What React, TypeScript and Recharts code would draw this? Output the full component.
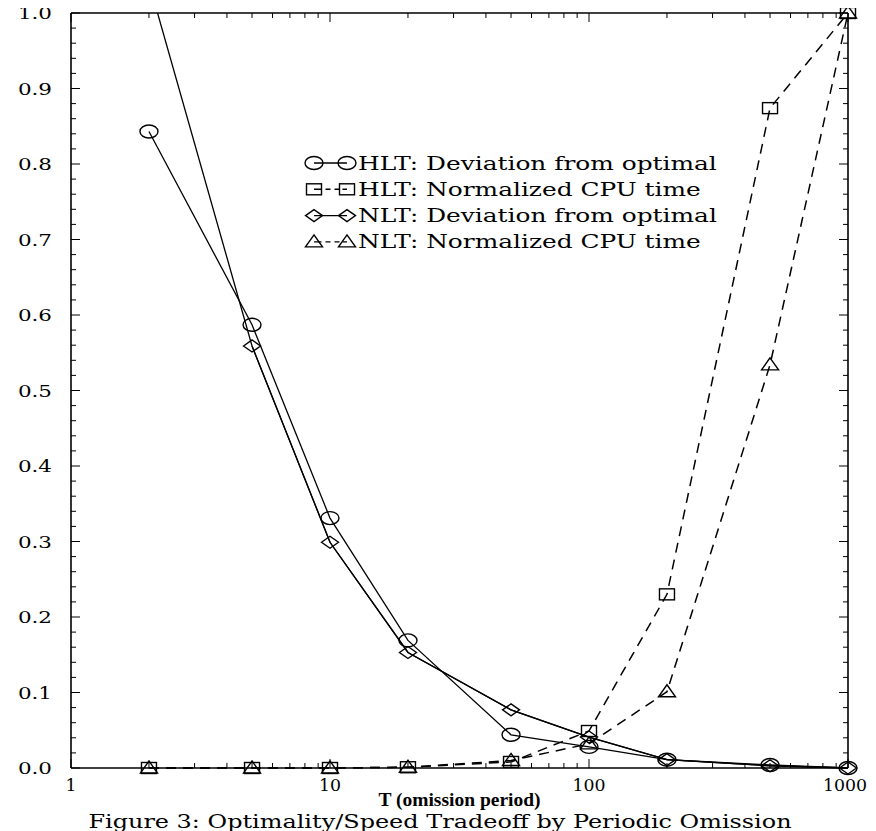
import React from 'react';
import { LineChart, Line, XAxis, YAxis, Legend, Customized } from 'recharts';

// ---------- data ----------
const T_VALUES = [2, 5, 10, 20, 50, 100, 200, 500, 1000];
const HLT_DEV = [0.843, 0.587, 0.331, 0.169, 0.044, 0.028, 0.011, 0.004, 0.0];
const HLT_CPU = [0.0, 0.0, 0.0, 0.001, 0.008, 0.049, 0.23, 0.874, 1.0];
const NLT_DEV = [1.04, 0.559, 0.299, 0.153, 0.077, 0.041, 0.011, 0.003, 0.0];
const NLT_CPU = [0.0, 0.0, 0.0, 0.001, 0.01, 0.032, 0.101, 0.534, 1.0];

const SERIES_NAMES = [
  'HLT: Deviation from optimal',
  'HLT: Normalized CPU time',
  'NLT: Deviation from optimal',
  'NLT: Normalized CPU time',
];
const SERIES_KEYS = ['hltDev', 'hltCpu', 'nltDev', 'nltCpu'];
const SERIES_SHAPES = ['circle', 'square', 'diamond', 'triangle'];
const SERIES_DASHED = [false, true, false, true];

const X_MAJOR = [1, 10, 100, 1000];
const X_MINOR_STEPS = [2, 3, 4, 5, 6, 7, 8, 9];
const Y_MAJOR = [0, 0.1, 0.2, 0.3, 0.4, 0.5, 0.6, 0.7, 0.8, 0.9, 1.0];
const X_LABEL = 'T (omission period)';
const CAPTION = 'Figure 3: Optimality/Speed Tradeoff by Periodic Omission';

// ---------- derived ----------
const data = T_VALUES.map((t, i) => ({
  t,
  hltDev: HLT_DEV[i],
  hltCpu: HLT_CPU[i],
  nltDev: NLT_DEV[i] <= 1 ? NLT_DEV[i] : null,
  nltDevFull: NLT_DEV[i],
  nltCpu: NLT_CPU[i],
}));

const X_TICKS: number[] = [];
X_MAJOR.forEach((m, i) => {
  X_TICKS.push(m);
  if (i < X_MAJOR.length - 1) X_MINOR_STEPS.forEach((s) => X_TICKS.push(m * s));
});
const Y_TICKS: number[] = [];
Y_MAJOR.forEach((m, i) => {
  Y_TICKS.push(m);
  if (i < Y_MAJOR.length - 1) {
    for (let k = 1; k < 5; k++) Y_TICKS.push(Math.round((m + (k * (Y_MAJOR[i + 1] - m)) / 5) * 1000) / 1000);
  }
});

// ---------- style ----------
const FONT = "'DejaVu Serif', serif";
const TIMES = "'Liberation Serif', 'Times New Roman', serif";
const STROKE = '#000';
const MAJOR_LEN = 9;
const MINOR_LEN = 5;

const SText = ({ x, y, anchor = 'start', size = 16, weight = 'normal', sx = 1.38, family = FONT, children }: any) => (
  <text
    transform={`translate(${x},${y}) scale(${sx},1)`}
    textAnchor={anchor}
    fontSize={size}
    fontFamily={family}
    fontWeight={weight}
    fill="#000"
    stroke="none"
  >
    {children}
  </text>
);

const isXMajor = (v: number) => X_MAJOR.includes(v);
const isYMajor = (v: number) => Math.abs(v * 10 - Math.round(v * 10)) < 1e-6;

const BottomTick = (p: any) => {
  const v = p.payload.value;
  const major = isXMajor(v);
  return (
    <g>
      <line x1={p.x} x2={p.x} y1={p.y} y2={p.y - (major ? MAJOR_LEN : MINOR_LEN)} stroke={STROKE} strokeWidth={1} />
      {major && (
        <SText x={v === 1000 ? p.x - 3 : p.x} y={p.y + 23} anchor="middle" size={16.5} sx={1.05}>
          {String(v)}
        </SText>
      )}
    </g>
  );
};
const TopTick = (p: any) => {
  const major = isXMajor(p.payload.value);
  return <line x1={p.x} x2={p.x} y1={p.y} y2={p.y + (major ? MAJOR_LEN : MINOR_LEN)} stroke={STROKE} strokeWidth={1} />;
};
const LeftTick = (p: any) => {
  const v = p.payload.value;
  const major = isYMajor(v);
  return (
    <g>
      <line x1={p.x} x2={p.x + (major ? MAJOR_LEN : MINOR_LEN)} y1={p.y} y2={p.y} stroke={STROKE} strokeWidth={1} />
      {major && (
        <SText x={p.x - 19} y={p.y + 6} anchor="end" size={16.5} sx={1.3}>
          {v.toFixed(1)}
        </SText>
      )}
    </g>
  );
};
const RightTick = (p: any) => {
  const major = isYMajor(p.payload.value);
  return <line x1={p.x} x2={p.x - (major ? MAJOR_LEN : MINOR_LEN)} y1={p.y} y2={p.y} stroke={STROKE} strokeWidth={1} />;
};

const Marker = ({ shape, cx, cy }: { shape: string; cx: number; cy: number }) => {
  const common = { fill: 'none', stroke: STROKE, strokeWidth: 1.4 };
  if (shape === 'circle') return <ellipse cx={cx} cy={cy} rx={9} ry={6.5} {...common} />;
  if (shape === 'square') return <rect x={cx - 7.5} y={cy - 5.5} width={15} height={11} {...common} />;
  if (shape === 'diamond')
    return <polygon points={`${cx - 8.5},${cy} ${cx},${cy - 6} ${cx + 8.5},${cy} ${cx},${cy + 6}`} {...common} />;
  return <polygon points={`${cx},${cy - 7} ${cx + 8.5},${cy + 5} ${cx - 8.5},${cy + 5}`} {...common} />;
};

const makeDot = (shape: string) => (p: any) => {
  if (p.cy == null || p.cx == null || p.value == null) return <g key={`e-${p.index}`} />;
  return <Marker key={`d-${p.index}`} shape={shape} cx={p.cx} cy={p.cy} />;
};

const LegendContent = (props: any) => {
  const payload = (props.payload || []).filter((e: any) => SERIES_KEYS.includes(e.dataKey));
  return (
    <svg width={440} height={110} style={{ overflow: 'visible' }}>
      {payload.map((e: any, i: number) => {
        const idx = SERIES_KEYS.indexOf(e.dataKey);
        const cy = 13 + i * 26.3;
        return (
          <g key={e.dataKey}>
            <line
              x1={14}
              x2={47}
              y1={cy}
              y2={cy}
              stroke={STROKE}
              strokeWidth={1.4}
              strokeDasharray={SERIES_DASHED[idx] ? '7.5 4 5 4 5 3 20' : undefined}
            />
            <Marker shape={SERIES_SHAPES[idx]} cx={14} cy={cy} />
            <Marker shape={SERIES_SHAPES[idx]} cx={47} cy={cy} />
            <SText x={58} y={cy + 6.5} size={18} sx={1.38}>
              {SERIES_NAMES[idx]}
            </SText>
          </g>
        );
      })}
    </svg>
  );
};

const XLabel = (p: any) => {
  const vb = p.viewBox || {};
  return (
    <SText x={vb.x + vb.width / 2} y={vb.y + 38} anchor="middle" size={19.5} weight="bold" sx={1.0} family={TIMES}>
      {X_LABEL}
    </SText>
  );
};

const Caption = () => (
  <SText x={440} y={828} anchor="middle" size={19} sx={1.26}>
    {CAPTION}
  </SText>
);

export default function App() {
  return (
    <div style={{ width: 876, height: 831, position: 'relative', margin: '-8px 0 0 -8px' }}>
      <LineChart width={876} height={831} data={data} margin={{ top: 8, right: 8, bottom: 0, left: 8 }}>
        <XAxis
          dataKey="t"
          type="number"
          scale="log"
          domain={[1, 1000]}
          ticks={X_TICKS}
          interval={0}
          tickSize={0}
          tickMargin={0}
          tickLine={false}
          axisLine={{ stroke: STROKE, strokeWidth: 1.6 }}
          tick={BottomTick}
          height={63}
          label={{ value: X_LABEL, content: XLabel }}
        />
        <XAxis
          xAxisId="top"
          orientation="top"
          dataKey="t"
          type="number"
          scale="log"
          domain={[1, 1000]}
          allowDataOverflow
          ticks={X_TICKS}
          interval={0}
          tickSize={0}
          tickMargin={0}
          tickLine={false}
          axisLine={{ stroke: STROKE, strokeWidth: 1.6 }}
          tick={TopTick}
          height={5}
        />
        <YAxis
          type="number"
          domain={[0, 1]}
          ticks={Y_TICKS}
          interval={0}
          tickSize={0}
          tickMargin={0}
          tickLine={false}
          axisLine={{ stroke: STROKE, strokeWidth: 1.6 }}
          tick={LeftTick}
          width={63}
        />
        <YAxis
          yAxisId="right"
          orientation="right"
          type="number"
          domain={[0, 1]}
          allowDataOverflow
          ticks={Y_TICKS}
          interval={0}
          tickSize={0}
          tickMargin={0}
          tickLine={false}
          axisLine={{ stroke: STROKE, strokeWidth: 1.6 }}
          tick={RightTick}
          width={20}
        />
        <Legend
          layout="vertical"
          align="center"
          verticalAlign="middle"
          content={LegendContent}
          wrapperStyle={{ position: 'absolute', left: 300, top: 150, width: 440, height: 110 }}
        />
        <Line
          xAxisId="top"
          yAxisId="right"
          dataKey="nltDevFull"
          stroke={STROKE}
          strokeWidth={1.3}
          dot={false}
          activeDot={false}
          legendType="none"
          isAnimationActive={false}
        />
        {SERIES_KEYS.map((k, i) => (
          <Line
            key={k}
            dataKey={k}
            name={SERIES_NAMES[i]}
            stroke={STROKE}
            strokeWidth={SERIES_DASHED[i] ? 1.5 : 1.3}
            strokeDasharray={SERIES_DASHED[i] ? '10 7' : undefined}
            dot={makeDot(SERIES_SHAPES[i])}
            activeDot={false}
            isAnimationActive={false}
          />
        ))}
        <Customized component={Caption} />
      </LineChart>
    </div>
  );
}
